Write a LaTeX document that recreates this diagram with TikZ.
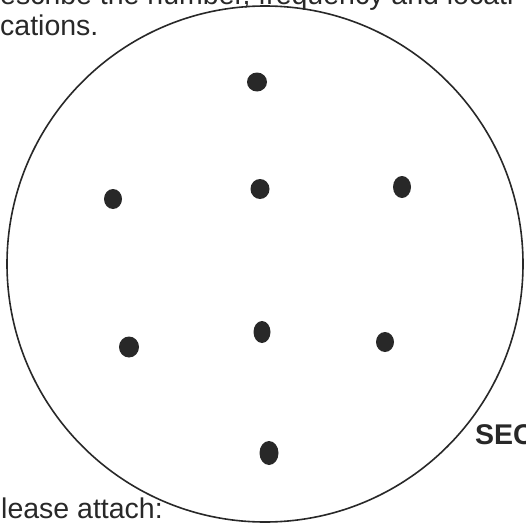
\documentclass[tikz,border=0pt]{standalone}
\usepackage{fontspec}
\setmainfont{Liberation Sans}
\usepackage{xcolor}
\usepackage{tikz}
\usetikzlibrary{
  shapes.geometric
}
\definecolor{inkdark}{RGB}{40, 40, 40}

\begin{document}
\begin{tikzpicture}[
  x=1pt, y=-1pt,
  spot/.style={ellipse, fill=inkdark, inner sep=0pt},
  rim/.style={draw=inkdark, line width=1.6pt},
  formtext/.style={anchor=base west, inner sep=0pt, text=inkdark,
                   font=\fontsize{28.5}{34}\selectfont},
  formhead/.style={formtext, font=\fontsize{28.5}{34}\selectfont\bfseries}
]
\useasboundingbox (0,0) rectangle (525,527);
\clip (0,0) rectangle (525,527);

% form text round the sketch
\node[formtext] (line1) at (0,5)   {escribe the number, frequency and locati};
\node[formtext] (line2) at (0,36)  {cations.};
\node[formtext] (attach) at (1,518) {lease attach:};
\node[formhead] (sec) at (475,444) {SEC};

% the dish
\draw[rim] (265,264) circle[radius=258pt];

% spots
\node[spot, minimum width=20pt, minimum height=19pt] (s1) at (257,82)  {};
\node[spot, minimum width=18pt, minimum height=20pt] (s2) at (113,199) {};
\node[spot, minimum width=19pt, minimum height=20pt] (s3) at (260,189) {};
\node[spot, minimum width=18pt, minimum height=22pt] (s4) at (402,187) {};
\node[spot, minimum width=20pt, minimum height=21pt] (s5) at (129,347) {};
\node[spot, minimum width=17pt, minimum height=22pt] (s6) at (262,332) {};
\node[spot, minimum width=18pt, minimum height=20pt] (s7) at (385,342) {};
\node[spot, minimum width=19pt, minimum height=24pt] (s8) at (269,453) {};

\end{tikzpicture}
\end{document}
